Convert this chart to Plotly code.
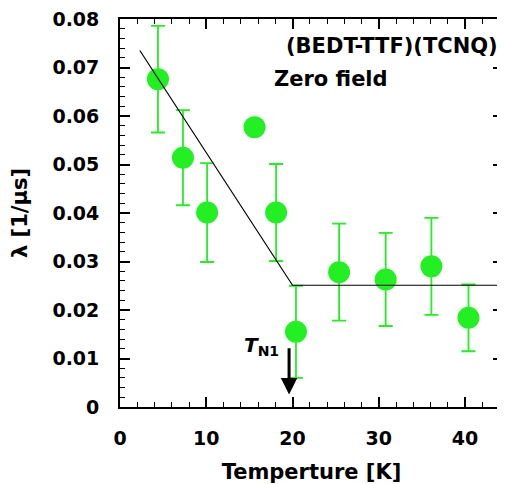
import plotly.graph_objects as go

# Data
temperature = [4.4, 7.3, 10.1, 15.6, 18.1, 20.4, 25.4, 30.8, 36.1, 40.4]
lam = [0.0676, 0.0514, 0.0401, 0.0577, 0.0401, 0.0155, 0.0278, 0.0263, 0.0290, 0.0184]
lam_err = [0.0110, 0.0098, 0.0102, 0.0, 0.0100, 0.0095, 0.0100, 0.0096, 0.0100, 0.0069]

fit_T = [2.3, 20.0, 44.5]
fit_lam = [0.0735, 0.0251, 0.0251]

x_ticks = [0, 10, 20, 30, 40]
y_ticks = [0, 0.01, 0.02, 0.03, 0.04, 0.05, 0.06, 0.07, 0.08]
y_ticklabels = ["0", "0.01", "0.02", "0.03", "0.04", "0.05", "0.06", "0.07", "0.08"]

TN1 = 19.6
arrow_from, arrow_to = 0.0124, 0.0026

green = "#22f022"
font_family = "DejaVu Sans"

fig = go.Figure()
fig.add_trace(go.Scatter(
    x=temperature, y=lam, mode="markers",
    marker=dict(size=22, color=green, line=dict(width=0)),
    error_y=dict(type="data", array=lam_err, visible=True, color=green, thickness=1.8, width=7),
    showlegend=False,
))
fig.add_trace(go.Scatter(
    x=fit_T, y=fit_lam, mode="lines",
    line=dict(color="black", width=1.2), showlegend=False,
))

fig.add_annotation(x=TN1, y=arrow_to, ax=TN1, ay=arrow_from, xref="x", yref="y",
                   axref="x", ayref="y", text="", showarrow=True,
                   arrowhead=2, arrowsize=1.1, arrowwidth=3, arrowcolor="black")
fig.add_annotation(x=TN1 - 0.9, y=0.0095, xref="x", yref="y", text="<i>T</i><sub>N1</sub>",
                   showarrow=False, xanchor="right", yanchor="bottom",
                   font=dict(family=font_family, size=20, color="black", weight="bold"))
fig.add_annotation(x=44.0, y=0.0745, xref="x", yref="y", text="(BEDT-TTF)(TCNQ)",
                   showarrow=False, xanchor="right", yanchor="middle",
                   font=dict(family=font_family, size=21, color="black", weight="bold"))
fig.add_annotation(x=17.6, y=0.0676, xref="x", yref="y", text="Zero field",
                   showarrow=False, xanchor="left", yanchor="middle",
                   font=dict(family=font_family, size=21, color="black", weight="bold"))

axis_common = dict(
    showline=True, linecolor="black", linewidth=1.8, mirror="allticks",
    ticks="inside", ticklen=10, tickwidth=1.6, tickcolor="black",
    showgrid=False, zeroline=False, automargin=False, ticklabeloverflow="allow",
    tickfont=dict(family=font_family, size=19, color="black", weight="bold"),
)

fig.update_xaxes(
    range=[0, 44.4], tickvals=x_ticks, ticklabelstandoff=13,
    minor=dict(ticks="inside", ticklen=5, tickwidth=1.2, tickcolor="black", dtick=2, showgrid=False),
    title=dict(text="Temperture [K]", font=dict(family=font_family, size=21, color="black", weight="bold"),
               standoff=25),
    **axis_common,
)
fig.update_yaxes(
    range=[0, 0.08], tickvals=y_ticks, ticktext=y_ticklabels, ticklabelstandoff=15,
    minor=dict(ticks="inside", ticklen=5, tickwidth=1.2, tickcolor="black", dtick=0.002, showgrid=False),
    title=dict(text="λ [1/µs]", font=dict(family=font_family, size=21, color="black", weight="bold"),
               standoff=20),
    **axis_common,
)

# The page body adds an 8px margin, so the figure is sized to fit the window.
fig.update_layout(
    width=497, height=476,
    margin=dict(l=112, r=2, t=11, b=77),
    plot_bgcolor="white", paper_bgcolor="white",
)

fig.write_html("out.html")
